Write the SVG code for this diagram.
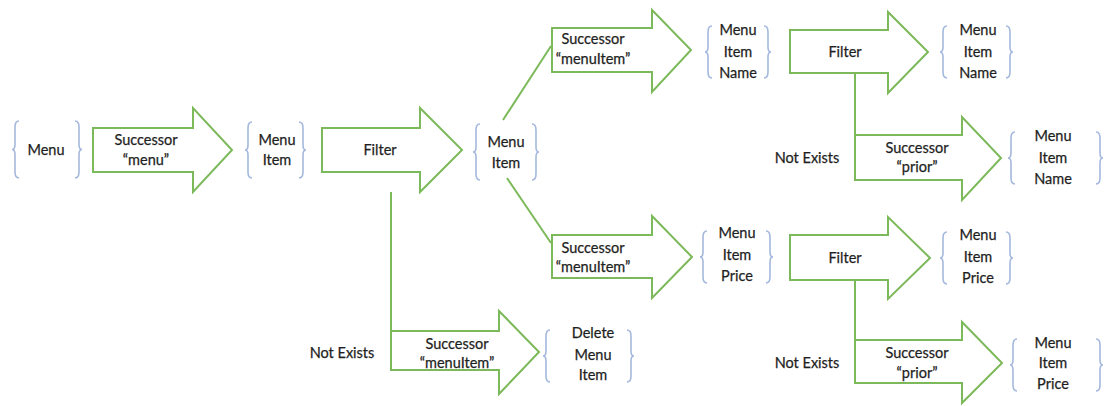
<svg xmlns="http://www.w3.org/2000/svg" width="1107" height="406" viewBox="0 0 1107 406">
<style>
.arr{fill:#ffffff;stroke:#7cb95a;stroke-width:2;stroke-linejoin:miter}
.con{fill:none;stroke:#7cb95a;stroke-width:2}
.br{fill:none;stroke:#a4b8dd;stroke-width:1.6}
text{font-family:Lato,"Open Sans","Liberation Sans",sans-serif;font-size:14.5px;fill:#1f1f1f;text-anchor:middle;stroke:#1f1f1f;stroke-width:0.25}
</style>
<rect width="1107" height="406" fill="#ffffff"/>
<g id="connectors">
<line class="con" x1="503" y1="120" x2="551" y2="46"/>
<line class="con" x1="507" y1="178" x2="551" y2="243"/>
<line class="con" x1="391" y1="192" x2="391" y2="331"/>
<line class="con" x1="855" y1="73" x2="855" y2="135"/>
<line class="con" x1="855" y1="280" x2="855" y2="340"/>
</g>
<g id="set-menu">
<path class="br" d="M19,121 Q15,121 15,127 L15,144.5 Q15,149.5 12,149.5 Q15,149.5 15,154.5 L15,172 Q15,178 19,178"/>
<path class="br" d="M75,121 Q79,121 79,127 L79,144.5 Q79,149.5 82,149.5 Q79,149.5 79,154.5 L79,172 Q79,178 75,178"/>
<text x="46" y="155">Menu</text>
</g>
<g id="op-successor-menu">
<polygon class="arr" points="93,128 193,128 193,108 232,150 193,192 193,172 93,172"/>
<text x="146" y="145">Successor</text>
<text x="146" y="165">“menu”</text>
</g>
<g id="set-menuitem-1">
<path class="br" d="M252,122 Q248,122 248,128 L248,145 Q248,150 245,150 Q248,150 248,155 L248,172 Q248,178 252,178"/>
<path class="br" d="M299,122 Q303,122 303,128 L303,145 Q303,150 306,150 Q303,150 303,155 L303,172 Q303,178 299,178"/>
<text x="277" y="145">Menu</text>
<text x="277" y="165">Item</text>
</g>
<g id="op-filter-1">
<polygon class="arr" points="322,128 420,128 420,108 462,150 420,192 420,172 322,172"/>
<text x="380" y="155">Filter</text>
</g>
<g id="set-menuitem-2">
<path class="br" d="M480,124 Q476,124 476,130 L476,147 Q476,152 473,152 Q476,152 476,157 L476,174 Q476,180 480,180"/>
<path class="br" d="M532,124 Q536,124 536,130 L536,147 Q536,152 539,152 Q536,152 536,157 L536,174 Q536,180 532,180"/>
<text x="506" y="147">Menu</text>
<text x="506" y="168">Item</text>
</g>
<g id="op-successor-menuitem-top">
<polygon class="arr" points="552,28 652,28 652,10 691,50 652,92 652,72 552,72"/>
<text x="593" y="44">Successor</text>
<text x="593" y="64">“menuItem”</text>
</g>
<g id="set-menuitemname-1">
<path class="br" d="M712,26 Q708,26 708,32 L708,47 Q708,52 705,52 Q708,52 708,57 L708,72 Q708,78 712,78"/>
<path class="br" d="M764,26 Q768,26 768,32 L768,47 Q768,52 771,52 Q768,52 768,57 L768,72 Q768,78 764,78"/>
<text x="738" y="35">Menu</text>
<text x="738" y="57">Item</text>
<text x="738" y="78">Name</text>
</g>
<g id="op-filter-2">
<polygon class="arr" points="790,30 888,30 888,12 928,52 888,93 888,73 790,73"/>
<text x="845" y="57">Filter</text>
</g>
<g id="set-menuitemname-2">
<path class="br" d="M947,26 Q943,26 943,32 L943,47 Q943,52 940,52 Q943,52 943,57 L943,72 Q943,78 947,78"/>
<path class="br" d="M1006,26 Q1010,26 1010,32 L1010,47 Q1010,52 1013,52 Q1010,52 1010,57 L1010,72 Q1010,78 1006,78"/>
<text x="978" y="35">Menu</text>
<text x="978" y="57">Item</text>
<text x="978" y="78">Name</text>
</g>
<g id="op-successor-prior-1">
<polygon class="arr" points="855,135 962,135 962,117 1001,158 962,200 962,180 855,180"/>
<text x="917" y="153">Successor</text>
<text x="917" y="172">“prior”</text>
<text x="807" y="163">Not Exists</text>
</g>
<g id="set-menuitemname-3">
<path class="br" d="M1015,132 Q1011,132 1011,138 L1011,153 Q1011,158 1008,158 Q1011,158 1011,163 L1011,178 Q1011,184 1015,184"/>
<path class="br" d="M1096,132 Q1100,132 1100,138 L1100,153 Q1100,158 1103,158 Q1100,158 1100,163 L1100,178 Q1100,184 1096,184"/>
<text x="1053" y="141">Menu</text>
<text x="1053" y="163">Item</text>
<text x="1053" y="184">Name</text>
</g>
<g id="op-successor-menuitem-bottom">
<polygon class="arr" points="552,235 652,235 652,216 692,257 652,298 652,278 552,278"/>
<text x="593" y="253">Successor</text>
<text x="593" y="272">“menuItem”</text>
</g>
<g id="set-menuitemprice-1">
<path class="br" d="M707,231 Q703,231 703,237 L703,252 Q703,257 700,257 Q703,257 703,262 L703,277 Q703,283 707,283"/>
<path class="br" d="M766,231 Q770,231 770,237 L770,252 Q770,257 773,257 Q770,257 770,262 L770,277 Q770,283 766,283"/>
<text x="737" y="238">Menu</text>
<text x="737" y="260">Item</text>
<text x="737" y="281">Price</text>
</g>
<g id="op-filter-3">
<polygon class="arr" points="790,235 888,235 888,217 930,258 888,299 888,280 790,280"/>
<text x="845" y="263">Filter</text>
</g>
<g id="set-menuitemprice-2">
<path class="br" d="M947,232 Q943,232 943,238 L943,253 Q943,258 940,258 Q943,258 943,263 L943,278 Q943,284 947,284"/>
<path class="br" d="M1006,232 Q1010,232 1010,238 L1010,253 Q1010,258 1013,258 Q1010,258 1010,263 L1010,278 Q1010,284 1006,284"/>
<text x="978" y="240">Menu</text>
<text x="978" y="262">Item</text>
<text x="978" y="283">Price</text>
</g>
<g id="op-successor-prior-2">
<polygon class="arr" points="855,340 962,340 962,322 1002,363 962,403 962,383 855,383"/>
<text x="917" y="358">Successor</text>
<text x="917" y="378">“prior”</text>
<text x="807" y="368">Not Exists</text>
</g>
<g id="set-menuitemprice-3">
<path class="br" d="M1017,339 Q1013,339 1013,345 L1013,360 Q1013,365 1010,365 Q1013,365 1013,370 L1013,385 Q1013,391 1017,391"/>
<path class="br" d="M1096,339 Q1100,339 1100,345 L1100,360 Q1100,365 1103,365 Q1100,365 1100,370 L1100,385 Q1100,391 1096,391"/>
<text x="1053" y="348">Menu</text>
<text x="1053" y="368">Item</text>
<text x="1053" y="389">Price</text>
</g>
<g id="op-successor-menuitem-delete">
<polygon class="arr" points="391,331 499,331 499,311 539,352 499,394 499,370 391,370"/>
<text x="457" y="349">Successor</text>
<text x="457" y="368">“menuItem”</text>
<text x="342" y="358">Not Exists</text>
</g>
<g id="set-delete-menuitem">
<path class="br" d="M550,330 Q546,330 546,336 L546,351 Q546,356 543,356 Q546,356 546,361 L546,376 Q546,382 550,382"/>
<path class="br" d="M627,330 Q631,330 631,336 L631,351 Q631,356 634,356 Q631,356 631,361 L631,376 Q631,382 627,382"/>
<text x="593" y="338">Delete</text>
<text x="593" y="360">Menu</text>
<text x="593" y="380">Item</text>
</g>
</svg>
